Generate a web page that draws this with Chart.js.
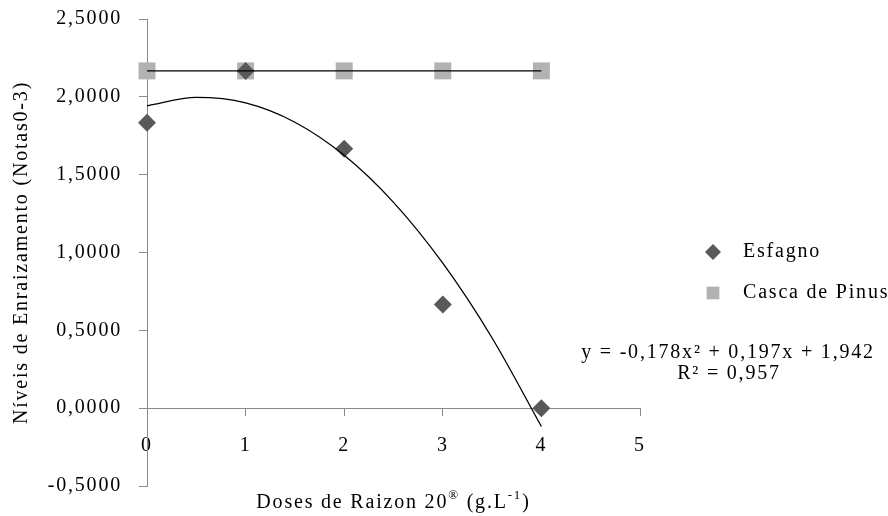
<!doctype html>
<html lang="pt">
  <head>
    <meta charset="utf-8">
    <title>Níveis de Enraizamento</title>
    <style>
      * {
        margin: 0;
        padding: 0;
      }
      body {
        background: #fff;
      }
      .chartBox {
        width: 888px;
        height: 516px;
      }
    </style>
  </head>
  <body>
    <div class="chartBox">
      <canvas id="myChart" width="888" height="516"></canvas>
    </div>
    <script src="https://cdn.jsdelivr.net/npm/chart.js/dist/chart.umd.min.js"></script>
    <script>
    // data
    const doses = [0, 1, 2, 3, 4];
    const esfagno = [1.8333, 2.1667, 1.6667, 0.6667, 0];
    const cascaPinus = [2.1667, 2.1667, 2.1667, 2.1667, 2.1667];

    // trend lines
    const esfagnoTrendX = [0, 0.5, 1, 1.5, 2, 2.5, 3, 3.5, 4];
    const esfagnoTrendY = [1.942, 1.996, 1.961, 1.837, 1.624, 1.322, 0.931, 0.451, -0.118];
    const cascaTrendX = [0, 4];
    const cascaTrendY = [2.1667, 2.1667];

    const equationLines = ['y = -0,178x² + 0,197x + 1,942', 'R² = 0,957'];

    const axisGray = '#898989';
    const serif = '"Liberation Serif", "Times New Roman", serif';

    const toPoints = (xs, ys) => xs.map((x, i) => ({x: x, y: ys[i]}));

    Chart.defaults.font.family = serif;
    Chart.defaults.font.size = 20;
    Chart.defaults.color = '#000';

    // the original text is set a bit loose
    const spacing = {
      id: 'spacing',
      beforeUpdate(chart) { chart.ctx.letterSpacing = '1.8px'; },
      beforeDraw(chart) { chart.ctx.letterSpacing = '1.8px'; }
    };

    // draw text pieces, some raised as superscript, centred on cx
    function drawRich(ctx, parts, cx, cy) {
      const widths = parts.map(p => {
        ctx.font = (p.sup ? '13px ' : '20px ') + serif;
        return ctx.measureText(p.text).width;
      });
      let x = cx - widths.reduce((a, b) => a + b, 0) / 2;
      ctx.textAlign = 'left';
      ctx.textBaseline = 'middle';
      parts.forEach((p, i) => {
        ctx.font = (p.sup ? '13px ' : '20px ') + serif;
        ctx.fillText(p.text, x, p.sup ? cy - 7 : cy);
        x += widths[i];
      });
    }

    const extras = {
      id: 'extras',
      afterDraw(chart) {
        const ctx = chart.ctx;
        ctx.save();
        ctx.fillStyle = '#000';

        // x axis title
        drawRich(ctx, [
          {text: 'Doses de Raizon 20'},
          {text: '®', sup: true},
          {text: ' (g.L'},
          {text: '-1', sup: true},
          {text: ')'}
        ], (chart.chartArea.left + chart.chartArea.right) / 2, 503);

        // legend
        const items = [
          {text: 'Esfagno', style: 'rectRot', radius: 8, color: '#595959', y: 252},
          {text: 'Casca de Pinus', style: 'rect', radius: 9, color: '#b2b2b2', y: 293}
        ];
        items.forEach(it => {
          ctx.fillStyle = it.color;
          Chart.helpers.drawPoint(ctx, {pointStyle: it.style, radius: it.radius, borderWidth: 0, rotation: 0}, 713, it.y);
          ctx.fillStyle = '#000';
          ctx.font = '20px ' + serif;
          ctx.textAlign = 'left';
          ctx.textBaseline = 'middle';
          ctx.fillText(it.text, 743, it.y);
        });

        // trend equation
        ctx.textAlign = 'center';
        ctx.fillText(equationLines[0], 728, 353);
        ctx.fillText(equationLines[1], 729, 374);
        ctx.restore();
      }
    };

    const data = {
      datasets: [{
        label: 'Tendência Esfagno',
        data: toPoints(esfagnoTrendX, esfagnoTrendY),
        showLine: true,
        borderColor: '#000',
        borderWidth: 1.3,
        pointRadius: 0,
        cubicInterpolationMode: 'monotone',
        clip: false,
        order: 0
      }, {
        label: 'Tendência Casca de Pinus',
        data: toPoints(cascaTrendX, cascaTrendY),
        showLine: true,
        borderColor: '#000',
        borderWidth: 1.3,
        pointRadius: 0,
        clip: false,
        order: 0
      }, {
        label: 'Esfagno',
        data: toPoints(doses, esfagno),
        pointStyle: 'rectRot',
        pointRadius: 9,
        pointBorderWidth: 0,
        backgroundColor: '#595959',
        clip: false,
        order: 1
      }, {
        label: 'Casca de Pinus',
        data: toPoints(doses, cascaPinus),
        pointStyle: 'rect',
        pointRadius: 12,
        pointBorderWidth: 0,
        backgroundColor: '#b2b2b2',
        clip: false,
        order: 2
      }]
    };

    const config = {
      type: 'scatter',
      data,
      options: {
        responsive: false,
        animation: false,
        events: [],
        layout: {
          padding: {top: 19, bottom: 30, left: 0, right: 248}
        },
        plugins: {
          legend: {display: false},
          tooltip: {enabled: false}
        },
        scales: {
          x: {
            type: 'linear',
            position: {y: 0},
            min: 0,
            max: 5,
            ticks: {stepSize: 1, padding: 19},
            grid: {drawOnChartArea: false, tickLength: 7, color: axisGray},
            border: {color: axisGray}
          },
          y: {
            min: -0.5,
            max: 2.5,
            afterFit(scale) {
              scale.width = 147;
              scale.paddingTop = 0;
              scale.paddingBottom = 0;
            },
            ticks: {
              stepSize: 0.5,
              padding: 17,
              callback: value => value.toFixed(4).replace('.', ',')
            },
            grid: {drawOnChartArea: false, tickLength: 8, color: axisGray},
            border: {color: axisGray},
            title: {
              display: true,
              text: 'Níveis de Enraizamento (Notas0-3)',
              padding: {top: 10, bottom: 0}
            }
          }
        }
      },
      plugins: [spacing, extras]
    };

    const myChart = new Chart(document.getElementById('myChart'), config);
    </script>
  </body>
</html>
